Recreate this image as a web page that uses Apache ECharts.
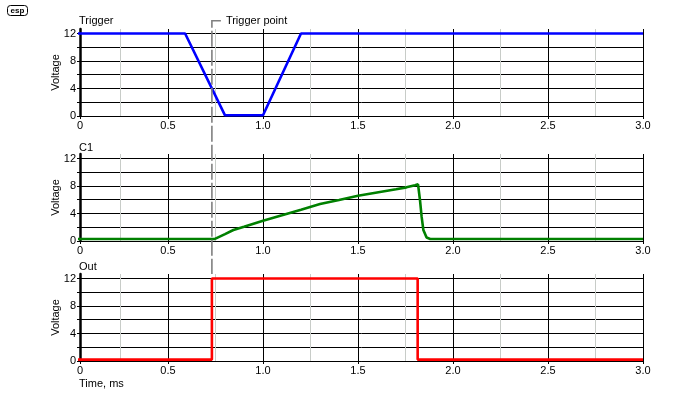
<!DOCTYPE html>
<html>
<head>
<meta charset="utf-8">
<script src="https://cdn.jsdelivr.net/npm/echarts@6/dist/echarts.min.js"></script>
<style>html,body{margin:0;padding:0;background:#fff}#c{width:700px;height:410px}</style>
</head>
<body>
<div id="c"></div>
<script>
// ---- data ----
const panelTitles = ['Trigger', 'C1', 'Out'];
const trigT = [0, 0.59, 0.8, 1.0, 1.2, 3.0];
const trigV = [12, 12, 0.1, 0.1, 12, 12];
const c1T = [0, 0.747, 0.8, 0.844, 0.9, 1.0, 1.1, 1.2, 1.3, 1.4, 1.5, 1.6, 1.7, 1.755, 1.8, 1.816, 1.826, 1.835, 1.844, 1.861, 1.88, 3.0];
const c1V = [0.3, 0.3, 1.0, 1.6, 2.08, 2.95, 3.75, 4.56, 5.38, 5.97, 6.58, 7.06, 7.53, 7.8, 8.1, 8.24, 6.0, 3.5, 1.6, 0.5, 0.3, 0.3];
const outT = [0, 0.731, 0.731, 1.814, 1.814, 3.0];
const outV = [0.2, 0.2, 12, 12, 0.2, 0.2];
const minorTicks = [0.25, 0.75, 1.25, 1.75, 2.25, 2.75];
const yLabels = [0, 4, 8, 12];
const triggerPoint = 0.731;
const xMin = 0.0368, xMax = 3.0;
const yMin = 0, yMax = 12.65;

// ---- layout / style ----
const FONT = "'Liberation Sans', Arial, sans-serif";
const gridTops = [29, 154, 274];
const gridH = 87;
const titleY = [21, 147.5, 266.5];
const colors = ['#0000ff', '#008000', '#ff0000'];
const seriesData = [
  trigT.map((t, i) => [t, trigV[i]]),
  c1T.map((t, i) => [t, c1V[i]]),
  outT.map((t, i) => [t, outV[i]])
];

const chart = echarts.init(document.getElementById('c'), null, {renderer: 'canvas'});

const grids = [], xAxes = [], yAxes = [], series = [];
for (let i = 0; i < 3; i++) {
  grids.push({left: 80, width: 563, top: gridTops[i], height: gridH, containLabel: false});
  xAxes.push({
    gridIndex: i, type: 'value', min: xMin, max: xMax, splitNumber: 6,
    axisLine: {show: true, onZero: false, lineStyle: {color: '#000', width: 1}},
    axisTick: {show: true, length: 3, lineStyle: {color: '#000'}},
    axisLabel: {
      color: '#000', fontSize: 11, fontFamily: FONT, margin: 4,
      showMinLabel: true, showMaxLabel: true,
      formatter: v => (v < 0.1 ? '0' : v.toFixed(1))
    },
    splitLine: {show: true, showMinLine: false, lineStyle: {color: '#000', width: 1}}
  });
  yAxes.push({
    gridIndex: i, type: 'value', min: yMin, max: yMax, interval: 2,
    axisLine: {show: true, lineStyle: {color: '#000', width: 2.5}},
    axisTick: {show: true, length: 3, lineStyle: {color: '#000'}},
    axisLabel: {
      color: '#000', fontSize: 11, fontFamily: FONT, margin: 4, showMaxLabel: false,
      formatter: v => (yLabels.indexOf(v) >= 0 ? String(v) : '')
    },
    splitLine: {show: true, showMaxLine: false, lineStyle: {color: '#000', width: 1}},
    name: 'Voltage', nameLocation: 'middle', nameRotate: 90, nameGap: 19,
    nameMoveOverlap: false,
    nameTextStyle: {color: '#000', fontSize: 11, fontFamily: FONT}
  });
  // minor grey grid lines
  series.push({
    type: 'line', xAxisIndex: i, yAxisIndex: i, data: [], z: 1, silent: true,
    markLine: {
      silent: true, symbol: ['none', 'none'], label: {show: false}, animation: false,
      lineStyle: {color: '#c8ccc8', width: 1, type: 'solid'},
      emphasis: {disabled: true},
      data: minorTicks.map(v => ({xAxis: v}))
    }
  });
  series.push({
    type: 'line', xAxisIndex: i, yAxisIndex: i, data: seriesData[i], z: 5,
    showSymbol: false, symbol: 'none', smooth: false, clip: true,
    lineStyle: {color: colors[i], width: 2.6}, itemStyle: {color: colors[i]}
  });
}

chart.setOption({
  animation: false,
  backgroundColor: '#fff',
  grid: grids, xAxis: xAxes, yAxis: yAxes, series: series
});

// annotations positioned through the library's scales
const xp = chart.convertToPixel({gridIndex: 0}, [triggerPoint, 0])[0];
const hookY = 20.7;
const lineBottom = chart.convertToPixel({gridIndex: 2}, [triggerPoint, yMax])[1];
const graphics = [
  {type: 'polyline', silent: true, z: 10,
   shape: {points: [[xp + 9, hookY], [xp, hookY], [xp, lineBottom]]},
   style: {stroke: '#808080', lineWidth: 1.6, fill: null, lineDash: [16, 3]}},
  {type: 'text', silent: true, z: 10, x: xp + 14, y: hookY,
   style: {text: 'Trigger point', fill: '#000', font: '11px ' + FONT, textVerticalAlign: 'middle', verticalAlign: 'middle'}},
  {type: 'text', silent: true, z: 10, x: 79, y: 384,
   style: {text: 'Time, ms', fill: '#000', font: '11px ' + FONT, verticalAlign: 'middle', textVerticalAlign: 'middle'}},
  {type: 'rect', silent: true, z: 10, shape: {x: 7.5, y: 5.5, width: 20, height: 10, r: 3},
   style: {stroke: '#000', lineWidth: 1, fill: '#fff'}},
  {type: 'text', silent: true, z: 11, x: 17.5, y: 10.5,
   style: {text: 'esp', fill: '#000', font: 'bold 8px ' + FONT, align: 'center', verticalAlign: 'middle', textAlign: 'center', textVerticalAlign: 'middle'}}
];
for (let i = 0; i < 3; i++) {
  graphics.push({type: 'text', silent: true, z: 10, x: 79, y: titleY[i],
    style: {text: panelTitles[i], fill: '#000', font: '11px ' + FONT, verticalAlign: 'middle', textVerticalAlign: 'middle'}});
}
chart.setOption({graphic: graphics});
</script>
</body>
</html>
